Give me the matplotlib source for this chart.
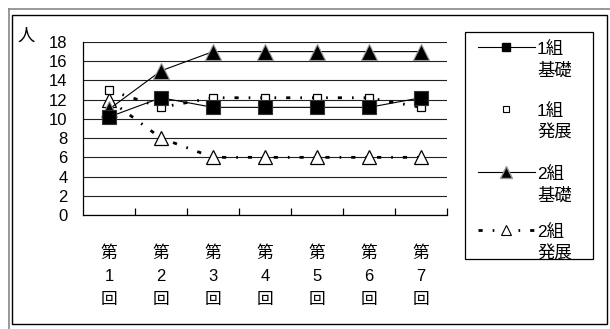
import matplotlib
matplotlib.use("Agg")
import matplotlib.pyplot as plt
from matplotlib.lines import Line2D
from matplotlib.patches import Rectangle

plt.rcParams['font.family'] = ['Liberation Sans', 'Noto Sans CJK JP', 'DejaVu Sans']

# datos
kaisu = ["第\n1\n回", "第\n2\n回", "第\n3\n回", "第\n4\n回", "第\n5\n回", "第\n6\n回", "第\n7\n回"]
kumi1_kiso = [10.2, 12.2, 11.2, 11.2, 11.2, 11.2, 12.2]
kumi1_hatten = [13.0, 11.2, 12.2, 12.2, 12.2, 12.2, 11.2]
kumi2_kiso = [11.0, 15.0, 17.0, 17.0, 17.0, 17.0, 17.0]
kumi2_hatten = [12.0, 8.0, 6.0, 6.0, 6.0, 6.0, 6.0]
etiquetas = ["1組\n基礎", "1組\n発展", "2組\n基礎", "2組\n発展"]
y_ticks = [0, 2, 4, 6, 8, 10, 12, 14, 16, 18]

W, H = 610, 329
fig = plt.figure(figsize=(W / 100, H / 100), dpi=100)

def fx(px):
    return px / W

def fy(py):
    return 1 - py / H

# marcos exteriores
fig.add_artist(Line2D([fx(9), fx(9)], [0, fy(9)], color='#888888', lw=1.2))
fig.add_artist(Line2D([fx(9), 1], [fy(9), fy(9)], color='#888888', lw=1.2))
fig.add_artist(Rectangle((fx(11.5), fy(323.5)), fx(606.5 - 11.5), (323.5 - 15) / H,
                         fill=False, ec='black', lw=1.0, transform=fig.transFigure))

ax = fig.add_axes([fx(83), fy(215), fx(447 - 83), (215 - 42) / H])
x = list(range(1, len(kaisu) + 1))

guiones = (1.5, 3.6, 0.6, 3.6)
ax.plot(x, kumi2_hatten, color='black', lw=2.0, dashes=guiones, marker='^', ms=9.5,
        mfc='white', mec='black', mew=0.9, zorder=3)
ax.plot(x, kumi2_kiso, color='black', lw=0.8, marker='^', ms=11,
        mfc='black', mec='#999999', mew=0.8, zorder=4)
ax.plot(x, kumi1_hatten, color='black', lw=2.0, dashes=guiones, marker='s', ms=6,
        mfc='white', mec='black', mew=0.9, zorder=5)
ax.plot(x, kumi1_kiso, color='black', lw=0.8, marker='s', ms=10,
        mfc='black', mec='#333333', mew=0.8, zorder=6)

ax.set_xlim(0.5, len(kaisu) + 0.5)
ax.set_ylim(0, 18)
ax.set_yticks(y_ticks)
ax.set_yticklabels([str(v) for v in y_ticks], fontsize=12)
ax.tick_params(axis='y', length=0, pad=11)
ax.set_xticks(x)
ax.set_xticklabels(kaisu, fontsize=12, linespacing=1.65)
ax.tick_params(axis='x', which='major', length=0, pad=22)
ax.set_xticks([v + 0.5 for v in x], minor=True)
ax.tick_params(axis='x', which='minor', length=5, direction='in', width=0.9)
ax.grid(axis='y', color='#222222', lw=0.8)
ax.set_axisbelow(True)
for lado in ['top', 'right']:
    ax.spines[lado].set_visible(False)
ax.spines['left'].set_linewidth(0.9)
ax.spines['bottom'].set_linewidth(0.9)

fig.text(fx(26), fy(36), "人", fontsize=12.5, ha='center', va='center')

# leyenda dibujada a mano
fig.add_artist(Rectangle((fx(465), fy(259)), fx(593 - 465), (259 - 32) / H,
                         fill=False, ec='black', lw=0.9, transform=fig.transFigure))
estilos = [
    dict(color='black', lw=0.8, marker='s', ms=6, mfc='black', mec='black'),
    dict(color='none', lw=0, marker='s', ms=4.5, mfc='white', mec='black', mew=0.8),
    dict(color='black', lw=0.8, marker='^', ms=8, mfc='black', mec='#999999'),
    dict(color='black', lw=2.0, dashes=guiones, marker='^', ms=7.5, mfc='white', mec='black', mew=0.8),
]
y_handle = [47, 109, 172, 230]
for etiqueta, estilo, yh in zip(etiquetas, estilos, y_handle):
    fig.add_artist(Line2D([fx(478), fx(506), fx(535)], [fy(yh)] * 3,
                          markevery=[1], **estilo))
    fig.text(fx(537), fy(yh + 13), etiqueta, fontsize=12.5, ha='left', va='center',
             linespacing=1.45)

fig.savefig("out.png", dpi=100)
